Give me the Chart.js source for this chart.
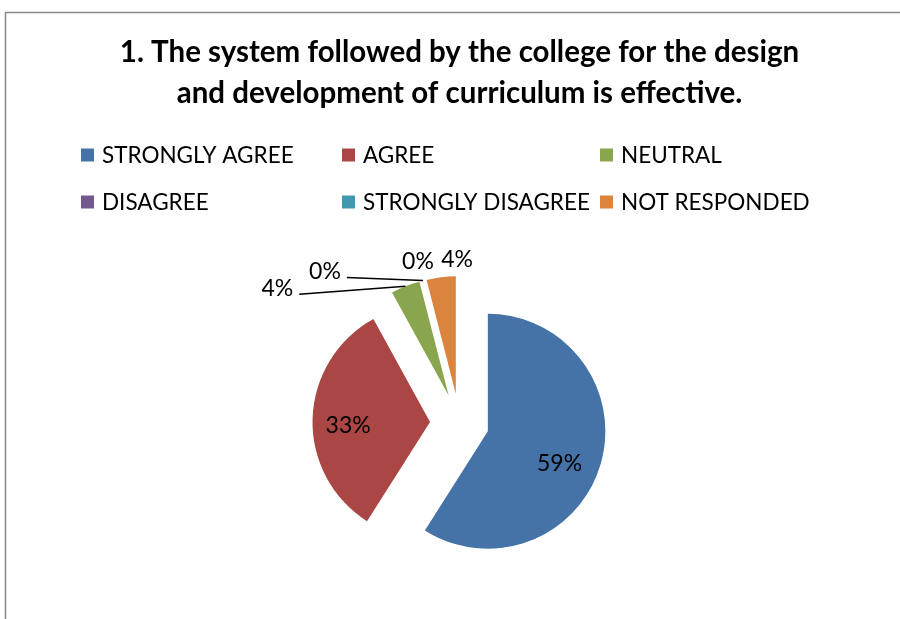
<!DOCTYPE html>
<html>
<head>
<meta charset="utf-8">
<script src="https://cdn.jsdelivr.net/npm/chart.js@4/dist/chart.umd.min.js"></script>
<style>
  html, body { margin: 0; padding: 0; background: #fff; }
  #wrap { position: relative; width: 900px; height: 619px; overflow: hidden; }
</style>
</head>
<body>
<div id="wrap"><canvas id="graph"></canvas></div>
<script>
const titleLines = [
	"1. The system followed by the college for the design",
	"and development of curriculum is effective.",
];
const categories = [
	"STRONGLY AGREE",
	"AGREE",
	"NEUTRAL",
	"DISAGREE",
	"STRONGLY DISAGREE",
	"NOT RESPONDED",
];
const percentages = [59, 33, 4, 0, 0, 4];
const colors = ["#4572A7", "#AA4643", "#89A54E", "#71588F", "#4198AF", "#DB843D"];

const FONT = "Lato, 'Open Sans', sans-serif";
const EXPLODE = 29.5;

// every slice is pulled out from the centre along its bisector
const explodePlugin = {
	id: "explode",
	afterDatasetUpdate(chart, args) {
		const meta = chart.getDatasetMeta(args.index);
		meta.data.forEach((arc) => {
			const mid = (arc.startAngle + arc.endAngle) / 2;
			arc.x += Math.cos(mid) * EXPLODE;
			arc.y += Math.sin(mid) * EXPLODE;
		});
	},
};

// grey frame of the chart box
const framePlugin = {
	id: "frame",
	beforeDraw(chart) {
		const ctx = chart.ctx;
		ctx.save();
		ctx.strokeStyle = "#888888";
		ctx.lineWidth = 1.5;
		ctx.strokeRect(5.5, 12.5, 1400, 1400);
		ctx.restore();
	},
};

// three-column legend under the title
const legendGrid = {
	id: "legendGrid",
	afterDraw(chart) {
		const ctx = chart.ctx;
		const colX = [81, 342, 600];
		const rowY = [155, 202];
		ctx.save();
		ctx.font = "22.5px " + FONT;
		ctx.textBaseline = "middle";
		ctx.fillStyle = "#000";
		categories.forEach((name, i) => {
			const x = colX[i % 3];
			const y = rowY[Math.floor(i / 3)];
			ctx.fillStyle = colors[i];
			ctx.fillRect(x, y - 6.5, 13, 13);
			ctx.fillStyle = "#000";
			ctx.fillText(name, x + 21, y + 1);
		});
		ctx.restore();
	},
};

// percentage labels; thin slices get callouts, two of them with leader lines
const sliceLabels = {
	id: "sliceLabels",
	afterDatasetsDraw(chart) {
		const ctx = chart.ctx;
		const meta = chart.getDatasetMeta(0);
		const inside = { 0: [-5, 10], 1: [-2, 6] };
		const callout = {
			2: { dx: -128, dy: 2, leader: true },
			3: { dx: -98, dy: -9, leader: true },
			4: { dx: -5, dy: -19, leader: false },
			5: { dx: 16, dy: -18, leader: false },
		};
		ctx.save();
		ctx.font = "23px " + FONT;
		ctx.textAlign = "center";
		ctx.textBaseline = "middle";
		ctx.fillStyle = "#000";
		ctx.strokeStyle = "#000";
		ctx.lineWidth = 1.5;
		meta.data.forEach((arc, i) => {
			const text = percentages[i] + "%";
			const mid = (arc.startAngle + arc.endAngle) / 2;
			const r = arc.outerRadius;
			if (inside[i]) {
				const x = arc.x + Math.cos(mid) * r * 0.68 + inside[i][0];
				const y = arc.y + Math.sin(mid) * r * 0.68 + inside[i][1];
				ctx.fillText(text, x, y);
				return;
			}
			const ox = arc.x + Math.cos(mid) * r;
			const oy = arc.y + Math.sin(mid) * r;
			const c = callout[i];
			const lx = ox + c.dx;
			const ly = oy + c.dy;
			ctx.fillText(text, lx, ly);
			if (c.leader) {
				const w = ctx.measureText(text).width;
				ctx.beginPath();
				ctx.moveTo(lx + w / 2 + 6, ly + 6);
				ctx.lineTo(ox, oy);
				ctx.stroke();
			}
		});
		ctx.restore();
	},
};

new Chart(document.getElementById("graph"), {
	type: "pie",
	data: {
		labels: categories,
		datasets: [
			{
				data: percentages,
				backgroundColor: colors,
				borderWidth: 0,
			},
		],
	},
	options: {
		responsive: true,
		maintainAspectRatio: false,
		animation: false,
		radius: 117.5,
		layout: {
			padding: { left: 19, right: 0, top: 21.5, bottom: 0 },
		},
		plugins: {
			legend: { display: false },
			tooltip: { enabled: false },
			title: {
				display: true,
				text: titleLines,
				color: "#000",
				font: { family: FONT, size: 29.5, weight: "bold", lineHeight: "41px" },
				padding: { top: 10, bottom: 113.5 },
			},
		},
	},
	plugins: [explodePlugin, framePlugin, legendGrid, sliceLabels],
});
</script>
</body>
</html>
